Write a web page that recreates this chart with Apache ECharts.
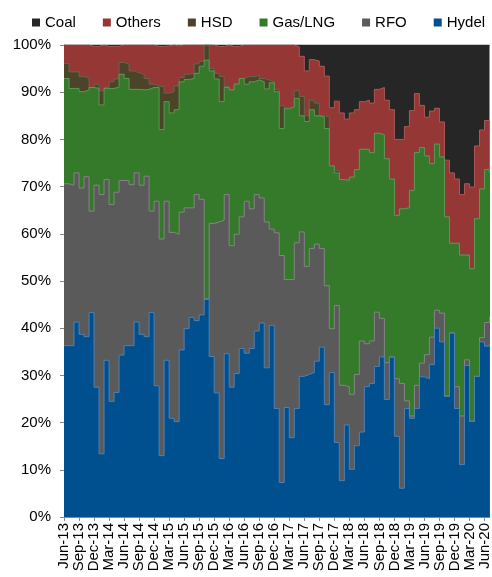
<!DOCTYPE html>
<html>
<head>
<meta charset="utf-8">
<script src="https://cdn.jsdelivr.net/npm/echarts@6/dist/echarts.min.js"></script>
<style>
html,body{margin:0;padding:0;background:#fff;}
#chart{width:492px;height:577px;}
</style>
</head>
<body>
<div id="chart"></div>
<script>
var months = ['Jun-13','Jul-13','Aug-13','Sep-13','Oct-13','Nov-13','Dec-13',
'Jan-14','Feb-14','Mar-14','Apr-14','May-14','Jun-14','Jul-14','Aug-14','Sep-14','Oct-14','Nov-14','Dec-14',
'Jan-15','Feb-15','Mar-15','Apr-15','May-15','Jun-15','Jul-15','Aug-15','Sep-15','Oct-15','Nov-15','Dec-15',
'Jan-16','Feb-16','Mar-16','Apr-16','May-16','Jun-16','Jul-16','Aug-16','Sep-16','Oct-16','Nov-16','Dec-16',
'Jan-17','Feb-17','Mar-17','Apr-17','May-17','Jun-17','Jul-17','Aug-17','Sep-17','Oct-17','Nov-17','Dec-17',
'Jan-18','Feb-18','Mar-18','Apr-18','May-18','Jun-18','Jul-18','Aug-18','Sep-18','Oct-18','Nov-18','Dec-18',
'Jan-19','Feb-19','Mar-19','Apr-19','May-19','Jun-19','Jul-19','Aug-19','Sep-19','Oct-19','Nov-19','Dec-19',
'Jan-20','Feb-20','Mar-20','Apr-20','May-20','Jun-20','Jul-20'];

var hydel = [36.3,36.3,41.3,38.7,38.2,43.3,27.5,13.4,33.2,24.5,26.4,34.3,36.3,36.3,41.3,38.7,38.2,43.3,27.8,13.0,33.2,20.9,20.2,35.4,39.9,42.3,41.6,42.8,46.1,34.0,26.3,12.4,34.6,27.5,30.4,35.7,34.7,35.7,39.4,41.1,31.6,40.6,23.0,7.3,23.2,16.8,23.0,29.8,30.2,30.6,33.0,36.0,23.8,30.6,15.8,7.7,19.5,10.1,15.1,18.0,27.6,28.3,31.9,33.9,24.9,33.9,17.1,6.1,23.0,20.9,23.0,29.7,29.3,32.3,40.0,37.1,25.6,39.0,23.0,11.1,32.1,20.3,29.8,37.1,36.2,36.7];
var rfo = [34.3,34.0,31.6,31.0,33.9,21.5,42.8,54.9,38.3,41.7,42.4,37.0,35.0,34.1,31.6,31.6,34.0,21.5,39.1,45.9,33.7,39.4,39.7,29.2,25.6,23.2,26.7,24.5,0.1,28.2,36.2,50.5,33.7,30.0,29.5,27.9,32.2,29.6,28.9,26.5,30.9,20.4,37.2,48.1,27.1,33.5,35.1,30.6,22.9,26.3,24.8,20.9,25.2,9.3,29.0,20.2,8.1,15.9,15.1,19.3,9.1,9.0,11.5,8.2,7.8,0,12.2,22.2,1.6,0.5,4.9,2.9,5.1,5.8,3.8,6.1,0,0,4.6,10.3,1.2,0,0,0.9,5.0,5.7];
var gas = [22.3,20.5,17.9,20.4,18.4,26.2,20.5,19.0,19.3,24.6,22.3,22.5,21.6,20.2,17.7,20.2,18.4,26.2,24.1,23.2,21.1,25.3,26.4,27.6,27.2,27.4,25.7,28.2,50.6,32.3,30.3,25.1,22.7,33.0,31.8,29.3,24.8,26.9,24.3,24.6,28.2,31.0,29.9,26.9,36.2,36.6,30.6,24.6,30.7,29.4,27.2,27.9,33.3,34.5,28.1,43.6,43.7,46.0,43.4,40.6,41.2,39.9,37.9,38.9,43.2,37.7,34.6,37.0,40.9,47.8,49.3,45.7,42.1,36.8,35.2,33.1,38.0,19.0,30.4,34.1,22.2,32.3,33.4,31.5,32.4,30.5];
var hsd = [3.2,3.5,3.5,3.2,2.5,0,0.9,3.0,0.2,1.4,1.7,2.5,3.0,3.9,3.5,3.3,2.3,0.7,0.3,9.1,1.8,4.5,5.0,0.9,1.1,1.1,2.0,1.0,3.2,0.5,1.2,5.3,0.2,0,0.2,0,1.6,1.1,1.0,0.7,1.9,0.2,0.5,4.8,0.1,0.1,1.6,4.1,1.2,2.0,2.7,0.2,2.5,0,0.5,0,0,0,0,0,0,0,0,0,0,0,0,0,0,0,0,0,0,0,0,0,0,0,0,0,0,0,0,0,0,0.6];
var others = [3.9,5.7,5.7,6.7,7.0,8.7,8.0,9.7,8.7,7.5,6.9,3.7,4.1,5.5,5.9,6.2,7.1,8.3,8.4,8.5,10.0,9.9,8.5,6.9,6.2,6.0,4.0,3.5,0,5.0,5.7,6.4,8.8,9.2,7.8,7.1,6.7,6.7,6.4,7.1,7.4,7.8,9.4,12.9,13.4,13.0,9.3,8.5,9.5,8.6,8.9,10.5,8.6,12.3,14.7,14.1,13.0,13.6,12.7,10.1,10.4,10.5,9.3,10.0,12.4,14.7,16.1,14.7,17.2,16.9,12.5,8.9,8.2,11.1,7.6,7.4,12.0,14.9,13.6,12.8,15.1,17.3,15.4,12.5,10.4,9.3];
var coal = [0,0,0,0,0,0.3,0.3,0,0.3,0.3,0.3,0,0,0,0,0,0,0,0.3,0.3,0.2,0,0.2,0,0,0,0,0,0,0,0.3,0.3,0,0.3,0.3,0,0,0,0,0,0,0,0,0,0,0,0.4,2.4,5.5,3.1,3.4,4.5,6.6,13.3,11.9,14.4,15.7,14.4,13.7,12.0,11.7,12.3,9.4,9.0,11.7,13.7,20.0,20.0,17.3,13.9,10.3,12.8,15.3,14.0,13.4,16.3,24.4,27.1,28.4,31.7,29.4,30.1,21.4,18.0,16.0,17.2];

// stacking order, bottom first
var seriesNames = ['Hydel','RFO','Gas/LNG','HSD','Others','Coal'];
var seriesData = [hydel, rfo, gas, hsd, others, coal];
var fillColors = ['#004f8f','#5a5a5a','#357a2a','#4b4429','#953735','#262626'];
var edgeColors = ['#5080b0','#848484','#5f9655','#6a6350','#a85a58','#262626'];

var FONT = '"Liberation Sans", Arial, sans-serif';

// running totals so each layer is an area from the axis up to its cumulative share
var running = months.map(function(){ return 0; });
var layers = seriesData.map(function(arr){
  running = running.map(function(v, i){ return Math.round((v + arr[i]) * 10) / 10; });
  return running.map(function(v){ return Math.min(v, 100); });
});

var series = [];
for (var k = seriesNames.length - 1; k >= 0; k--) {
  series.push({
    name: seriesNames[k],
    type: 'line',
    step: 'end',
    data: layers[k],
    showSymbol: false,
    symbol: 'none',
    itemStyle: {color: fillColors[k]},
    lineStyle: {color: edgeColors[k], width: 1},
    areaStyle: {color: fillColors[k], opacity: 1}
  });
}

var chart = echarts.init(document.getElementById('chart'), null, {renderer: 'canvas'});
chart.setOption({
  animation: false,
  backgroundColor: '#fff',
  legend: {
    data: ['Coal','Others','HSD','Gas/LNG','RFO','Hydel'],
    left: 32,
    top: 10,
    width: 460,
    padding: [5, 0, 5, 0],
    itemWidth: 8,
    itemHeight: 8,
    itemGap: 27,
    icon: 'rect',
    textStyle: {fontFamily: FONT, fontSize: 15, color: '#000'}
  },
  grid: {left: 64, right: 2, top: 45, bottom: 60, containLabel: false},
  xAxis: {
    type: 'category',
    data: months,
    boundaryGap: false,
    axisLine: {show: true, lineStyle: {color: '#868686', width: 1}},
    axisTick: {show: true, length: 4, interval: function(i){return i % 3 === 0;}, lineStyle: {color: '#868686'}},
    axisLabel: {
      rotate: 90,
      margin: 6,
      interval: function(i){return i % 3 === 0;},
      fontFamily: FONT, fontSize: 15, color: '#000'
    },
    splitLine: {show: false}
  },
  yAxis: {
    type: 'value',
    min: 0, max: 100, interval: 10,
    axisLine: {show: true, lineStyle: {color: '#868686', width: 1}},
    axisTick: {show: true, length: 4, lineStyle: {color: '#868686'}},
    axisLabel: {formatter: '{value}%', margin: 13, fontFamily: FONT, fontSize: 15, color: '#000'},
    splitLine: {show: false}
  },
  series: series
});
</script>
</body>
</html>
